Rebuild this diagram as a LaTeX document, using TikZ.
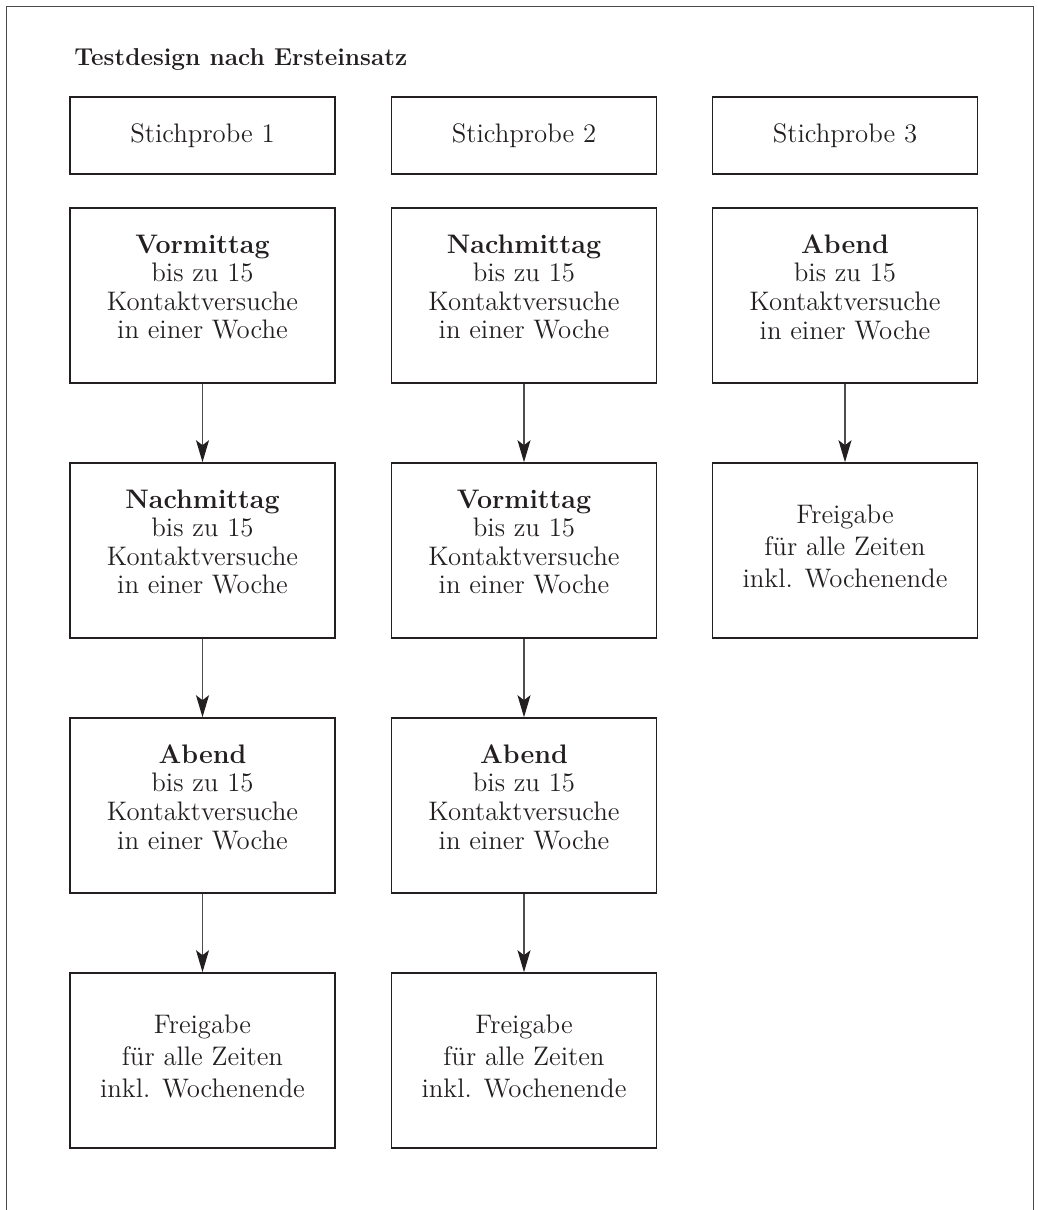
\documentclass[tikz,border=0pt]{standalone}
\usetikzlibrary{arrows.meta}
\definecolor{ink}{HTML}{231F20}
\definecolor{frame}{HTML}{4A4A4A}
\begin{document}
\begin{tikzpicture}[x=0.5pt,y=-0.5pt,
  box/.style={draw=ink, line width=0.8pt, minimum width=132.5pt, inner sep=0pt},
  tall/.style={box, minimum height=87.5pt},
  head/.style={box, minimum height=38.5pt, text=ink, font=\fontsize{13.4}{14}\selectfont},
  txt/.style={align=center, text=ink, inner sep=0pt, font=\fontsize{13.4}{14.3}\selectfont},
  freetxt/.style={align=center, text=ink, inner sep=0pt, font=\fontsize{13.4}{16}\selectfont},
  arr/.style={draw=ink!80, line width=0.55pt, -{Stealth[length=11pt,width=6.5pt,inset=2.5pt,color=ink]}},
  title/.style={anchor=base west, inner sep=0pt, text=ink, font=\bfseries\fontsize{12.2}{14}\selectfont}]
\useasboundingbox (0,0) rectangle (1038,1210);
% outer frame (open at bottom)
\draw[frame, line width=0.75pt] (6.5,1215) -- (6.5,6.5) -- (1033.5,6.5) -- (1033.5,1215);
% title
\node[title] (title) at (74,65) {Testdesign nach Ersteinsatz};
% heads
\node[head] (h1) at (202.5,135.5) {Stichprobe 1};
\node[head] (h2) at (524,135.5) {Stichprobe 2};
\node[head] (h3) at (845,135.5) {Stichprobe 3};
% column 1
\node[tall] (a1) at (202.5,295.5) {};
\node[tall] (a2) at (202.5,550.5) {};
\node[tall] (a3) at (202.5,805.5) {};
\node[tall] (a4) at (202.5,1060.5) {};
% column 2
\node[tall] (b1) at (524,295.5) {};
\node[tall] (b2) at (524,550.5) {};
\node[tall] (b3) at (524,805.5) {};
\node[tall] (b4) at (524,1060.5) {};
% column 3
\node[tall] (c1) at (845,295.5) {};
\node[tall] (c2) at (845,550.5) {};
% texts
\node[txt] (ta1) at ([yshift=4.25pt]a1.center) {\textbf{Vormittag}\\bis zu 15\\Kontaktversuche\\in einer Woche};
\node[txt] (ta2) at ([yshift=4.25pt]a2.center) {\textbf{Nachmittag}\\bis zu 15\\Kontaktversuche\\in einer Woche};
\node[txt] (ta3) at ([yshift=4.25pt]a3.center) {\textbf{Abend}\\bis zu 15\\Kontaktversuche\\in einer Woche};
\node[freetxt] (ta4) at ([yshift=2.25pt]a4.center) {Freigabe\\für alle Zeiten\\inkl. Wochenende};
\node[txt] (tb1) at ([yshift=4.25pt]b1.center) {\textbf{Nachmittag}\\bis zu 15\\Kontaktversuche\\in einer Woche};
\node[txt] (tb2) at ([yshift=4.25pt]b2.center) {\textbf{Vormittag}\\bis zu 15\\Kontaktversuche\\in einer Woche};
\node[txt] (tb3) at ([yshift=4.25pt]b3.center) {\textbf{Abend}\\bis zu 15\\Kontaktversuche\\in einer Woche};
\node[freetxt] (tb4) at ([yshift=2.25pt]b4.center) {Freigabe\\für alle Zeiten\\inkl. Wochenende};
\node[txt] (tc1) at ([yshift=4.25pt]c1.center) {\textbf{Abend}\\bis zu 15\\Kontaktversuche\\in einer Woche};
\node[freetxt] (tc2) at ([yshift=2.25pt]c2.center) {Freigabe\\für alle Zeiten\\inkl. Wochenende};
% arrows
\draw[arr] (a1.south) -- (a2.north);
\draw[arr] (a2.south) -- (a3.north);
\draw[arr] (a3.south) -- (a4.north);
\draw[arr] (b1.south) -- (b2.north);
\draw[arr] (b2.south) -- (b3.north);
\draw[arr] (b3.south) -- (b4.north);
\draw[arr] (c1.south) -- (c2.north);
\end{tikzpicture}
\end{document}
